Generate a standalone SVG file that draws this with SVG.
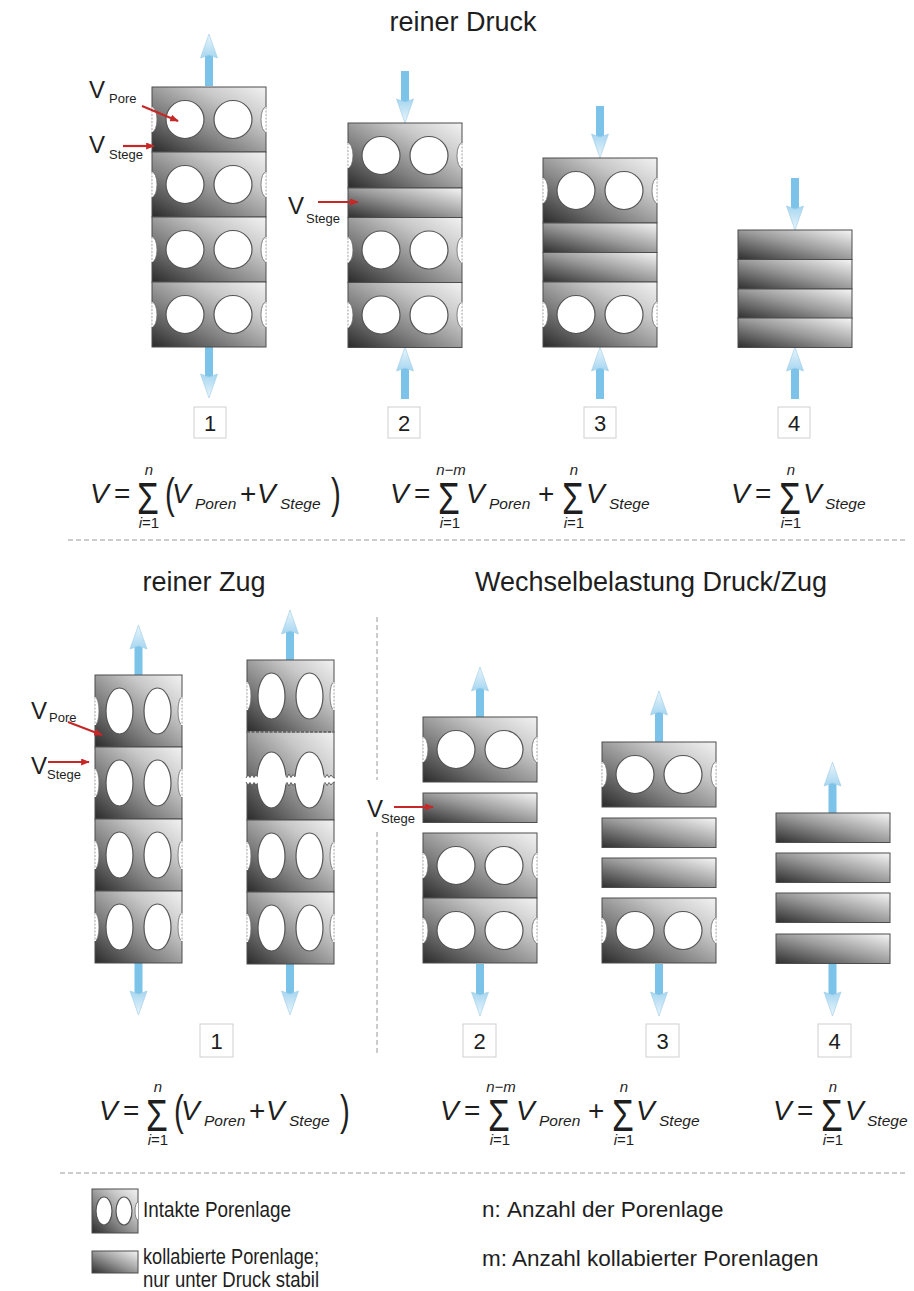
<svg xmlns="http://www.w3.org/2000/svg" width="914" height="1291" viewBox="0 0 914 1291">
<style>
.t{font-family:"Liberation Sans",Arial,sans-serif;fill:#1e1e1e}
.h{font-size:27px}
.mi{font-size:28px;font-style:italic}
.mo{font-size:28px}
.sg{font-size:44px}
.pa{font-size:42px}
.sub{font-size:15.5px;font-style:italic}
.lim{font-size:15px}
.lbl{font-size:22px}
.vb{font-size:24px}
.vs{font-size:13px}
.leg{font-size:22.5px}
.lay{stroke:#4d4d4d;stroke-width:1}
.pore{fill:#fff;stroke:#555;stroke-width:1.2}
.notch{fill:#fff;stroke:#6a6a6a;stroke-width:0.8}
.cover{stroke:#fff;stroke-width:1.8}
.edge{stroke:#a8a8a8;stroke-width:1;stroke-dasharray:2 1.5}
.sep{stroke:#9a9a9a;stroke-width:1;stroke-dasharray:5 3;fill:none}
.box{fill:#fff;stroke:#cfcfcf;stroke-width:1}
.red{stroke:#c62828;stroke-width:2.2;fill:none;marker-end:url(#redHead)}
.zig{fill:none;stroke:#555;stroke-width:0.9}
</style>
<defs>
  <linearGradient id="gLayer" x1="0" y1="1" x2="1" y2="0">
    <stop offset="0" stop-color="#2a2a2a"/>
    <stop offset="0.35" stop-color="#7e7e7e"/>
    <stop offset="0.7" stop-color="#c8c8c8"/>
    <stop offset="1" stop-color="#f2f2f2"/>
  </linearGradient>
  <linearGradient id="gFlat" x1="0" y1="1" x2="1" y2="0">
    <stop offset="0" stop-color="#2e2e2e"/>
    <stop offset="0.5" stop-color="#9a9a9a"/>
    <stop offset="1" stop-color="#f6f6f6"/>
  </linearGradient>
  <linearGradient id="gHead" x1="0" y1="0" x2="0" y2="1">
    <stop offset="0" stop-color="#eaf6fc"/>
    <stop offset="1" stop-color="#a6d6f0"/>
  </linearGradient>
  <marker id="redHead" viewBox="0 0 10 8" refX="9" refY="4" markerWidth="9" markerHeight="7" markerUnits="userSpaceOnUse" orient="auto">
    <path d="M0,0 L10,4 L0,8 z" fill="#c62828"/>
  </marker>

  <!-- blue load arrow, tip at origin, pointing up, 52 long -->
  <g id="arrowUp">
    <rect x="-4" y="18" width="8" height="34" fill="#7cc3e9"/>
    <path d="M0,0 L8.5,24 L0,21 L-8.5,24 Z" fill="url(#gHead)" stroke="#9ccbe6" stroke-width="0.6"/>
  </g>

  <!-- intact pore layer, round pores -->
  <g id="layerIntact">
    <rect x="0" y="0" width="114" height="65" fill="url(#gLayer)" class="lay"/>
    <circle cx="33" cy="32.5" r="19" class="pore"/>
    <circle cx="81" cy="32.5" r="19" class="pore"/>
    <path d="M0,20 A5,12.5 0 0 1 0,45" class="notch"/>
    <path d="M114,20 A5,12.5 0 0 0 114,45" class="notch"/>
    <line x1="0" y1="20" x2="0" y2="45" class="cover"/>
    <line x1="114" y1="20" x2="114" y2="45" class="cover"/>
    <line x1="0" y1="20" x2="0" y2="45" class="edge"/>
    <line x1="114" y1="20" x2="114" y2="45" class="edge"/>
  </g>

  <!-- collapsed layer -->
  <g id="layerFlat">
    <rect x="0" y="0" width="114" height="29.5" fill="url(#gFlat)" class="lay"/>
  </g>

  <!-- stretched layer, oval pores -->
  <g id="layerTension">
    <rect x="0" y="0" width="87" height="72" fill="url(#gLayer)" class="lay"/>
    <ellipse cx="24.5" cy="36" rx="13.5" ry="23" class="pore"/>
    <ellipse cx="62.5" cy="36" rx="13.5" ry="23" class="pore"/>
    <path d="M0,22 A4,14 0 0 1 0,50" class="notch"/>
    <path d="M87,22 A4,14 0 0 0 87,50" class="notch"/>
    <line x1="0" y1="22" x2="0" y2="50" class="cover"/>
    <line x1="87" y1="22" x2="87" y2="50" class="cover"/>
    <line x1="0" y1="22" x2="0" y2="50" class="edge"/>
    <line x1="87" y1="22" x2="87" y2="50" class="edge"/>
  </g>

  <!-- torn layer: pore walls broken through -->
  <g id="layerTorn">
    <rect x="0" y="0" width="87" height="88" fill="url(#gLayer)" class="lay"/>
    <ellipse cx="24.5" cy="48" rx="14.5" ry="28" class="pore"/>
    <ellipse cx="62.5" cy="48" rx="14.5" ry="28" class="pore"/>
    <polygon points="-1,46 1,43 3,45.5 5,42.5 7,45.5 9,43 11,45.5 13,46 13,50 11,50.5 9,53 7,50.5 5,53.5 3,50.5 1,53 -1,50" fill="#fff"/>
    <polygon points="36,46 38,43 40,45.5 42,42 44,45.5 46,42.5 48,45 50,43 51,46 51,50 50,53 48,51 46,53.5 44,50.5 42,54 40,50.5 38,53 36,50" fill="#fff"/>
    <polygon points="74,46 76,43 78,45.5 80,42.5 82,45.5 84,43 86,45.5 88,46 88,50 86,50.5 84,53 82,50.5 80,53.5 78,50.5 76,53 74,50" fill="#fff"/>
    <polyline points="-1,46 1,43 3,45.5 5,42.5 7,45.5 9,43 10,44.5" class="zig"/>
    <polyline points="-1,50 1,53 3,50.5 5,53.5 7,50.5 9,53 10,51.5" class="zig"/>
    <polyline points="39,44.5 40,45.5 42,42 44,45.5 46,42.5 48,45" class="zig"/>
    <polyline points="39,51.5 40,50.5 42,54 44,50.5 46,53.5 48,51" class="zig"/>
    <polyline points="77,44.5 78,45.5 80,42.5 82,45.5 84,43 86,45.5 88,46" class="zig"/>
    <polyline points="77,51.5 78,50.5 80,53.5 82,50.5 84,53 86,50.5 88,50" class="zig"/>
    <line x1="0" y1="0" x2="87" y2="0" stroke="#ddd" stroke-width="1.2"/>
    <line x1="0" y1="0" x2="87" y2="0" stroke="#333" stroke-width="1" stroke-dasharray="3 1.5"/>
  </g>

  <!-- volume formulas -->
  <g id="fAll">
    <text class="t mi" x="90" y="503">V</text>
    <text class="t mo" x="114" y="503">=</text>
    <text class="t sg" transform="translate(137,514) scale(0.8,1)">Σ</text>
    <text class="t lim" x="149" y="475" text-anchor="middle" font-style="italic">n</text>
    <text class="t lim" x="149" y="528" text-anchor="middle"><tspan font-style="italic">i</tspan>=1</text>
    <text class="t pa" transform="translate(165,508) scale(0.7,1)">(</text>
    <text class="t mi" x="172" y="503">V</text>
    <text class="t sub" x="195" y="509">Poren</text>
    <text class="t mo" x="240" y="503">+</text>
    <text class="t mi" x="257" y="503">V</text>
    <text class="t sub" x="280" y="509">Stege</text>
    <text class="t pa" transform="translate(331,508) scale(0.7,1)">)</text>
  </g>
  <g id="fMixed">
    <text class="t mi" x="390" y="503">V</text>
    <text class="t mo" x="414" y="503">=</text>
    <text class="t sg" transform="translate(438,514) scale(0.8,1)">Σ</text>
    <text class="t lim" x="451" y="475" text-anchor="middle" font-style="italic">n−m</text>
    <text class="t lim" x="450" y="528" text-anchor="middle"><tspan font-style="italic">i</tspan>=1</text>
    <text class="t mi" x="466" y="503">V</text>
    <text class="t sub" x="489" y="509">Poren</text>
    <text class="t mo" x="538" y="503">+</text>
    <text class="t sg" transform="translate(562,514) scale(0.8,1)">Σ</text>
    <text class="t lim" x="574" y="475" text-anchor="middle" font-style="italic">n</text>
    <text class="t lim" x="574" y="528" text-anchor="middle"><tspan font-style="italic">i</tspan>=1</text>
    <text class="t mi" x="586" y="503">V</text>
    <text class="t sub" x="609" y="509">Stege</text>
  </g>
  <g id="fFlat">
    <text class="t mi" x="731" y="503">V</text>
    <text class="t mo" x="755" y="503">=</text>
    <text class="t sg" transform="translate(779,514) scale(0.8,1)">Σ</text>
    <text class="t lim" x="791" y="475" text-anchor="middle" font-style="italic">n</text>
    <text class="t lim" x="791" y="528" text-anchor="middle"><tspan font-style="italic">i</tspan>=1</text>
    <text class="t mi" x="803" y="503">V</text>
    <text class="t sub" x="825" y="509">Stege</text>
  </g>
</defs>

<rect x="0" y="0" width="914" height="1291" fill="#fff"/>

<!-- headings -->
<text class="t h" x="463" y="31" text-anchor="middle">reiner Druck</text>
<text class="t h" x="204" y="591" text-anchor="middle">reiner Zug</text>
<text class="t h" x="651" y="591" text-anchor="middle">Wechselbelastung Druck/Zug</text>

<!-- section separators -->
<g id="separators">
  <line x1="68" y1="540" x2="905" y2="540" class="sep"/>
  <line x1="377" y1="617" x2="377" y2="780" class="sep"/>
  <line x1="377" y1="832" x2="377" y2="1056" class="sep"/>
  <line x1="60" y1="1173" x2="905" y2="1173" class="sep"/>
</g>

<!-- load arrows -->
<g id="connectors">
  <use href="#arrowUp" transform="translate(209,34)"/>
  <use href="#arrowUp" transform="translate(209,398) scale(1,-1)"/>
  <use href="#arrowUp" transform="translate(405,123) scale(1,-1)"/>
  <use href="#arrowUp" transform="translate(405,347)"/>
  <use href="#arrowUp" transform="translate(600,158) scale(1,-1)"/>
  <use href="#arrowUp" transform="translate(600,347)"/>
  <use href="#arrowUp" transform="translate(795,230) scale(1,-1)"/>
  <use href="#arrowUp" transform="translate(795,347)"/>

  <use href="#arrowUp" transform="translate(138.5,625)"/>
  <use href="#arrowUp" transform="translate(138.5,1015) scale(1,-1)"/>
  <use href="#arrowUp" transform="translate(290,610)"/>
  <use href="#arrowUp" transform="translate(290,1015) scale(1,-1)"/>
  <use href="#arrowUp" transform="translate(480,667)"/>
  <use href="#arrowUp" transform="translate(480,1016) scale(1,-1)"/>
  <use href="#arrowUp" transform="translate(659,691)"/>
  <use href="#arrowUp" transform="translate(659,1016) scale(1,-1)"/>
  <use href="#arrowUp" transform="translate(832.5,762)"/>
  <use href="#arrowUp" transform="translate(832.5,1016) scale(1,-1)"/>
</g>

<!-- pure compression -->
<g id="druck-1">
  <use href="#layerIntact" x="152" y="87"/>
  <use href="#layerIntact" x="152" y="152"/>
  <use href="#layerIntact" x="152" y="217"/>
  <use href="#layerIntact" x="152" y="282"/>
  <text class="t vb" x="89" y="98">V</text><text class="t vs" x="109" y="103">Pore</text>
  <text class="t vb" x="89" y="153">V</text><text class="t vs" x="109" y="159">Stege</text>
</g>
<g id="druck-2">
  <use href="#layerIntact" x="348" y="123"/>
  <use href="#layerFlat" x="348" y="188"/>
  <use href="#layerIntact" x="348" y="217.5"/>
  <use href="#layerIntact" x="348" y="282.5"/>
  <text class="t vb" x="288" y="214">V</text><text class="t vs" x="306" y="223">Stege</text>
</g>
<g id="druck-3">
  <use href="#layerIntact" x="543" y="158"/>
  <use href="#layerFlat" x="543" y="223"/>
  <use href="#layerFlat" x="543" y="252.5"/>
  <use href="#layerIntact" x="543" y="282"/>
</g>
<g id="druck-4">
  <use href="#layerFlat" x="738" y="230"/>
  <use href="#layerFlat" x="738" y="259.5"/>
  <use href="#layerFlat" x="738" y="289"/>
  <use href="#layerFlat" x="738" y="318"/>
</g>

<g id="labels-top">
  <rect x="194" y="407" width="32" height="31" class="box"/><text class="t lbl" x="210" y="431" text-anchor="middle">1</text>
  <rect x="388" y="407" width="32" height="31" class="box"/><text class="t lbl" x="404" y="431" text-anchor="middle">2</text>
  <rect x="584" y="407" width="32" height="31" class="box"/><text class="t lbl" x="600" y="431" text-anchor="middle">3</text>
  <rect x="778" y="407" width="32" height="31" class="box"/><text class="t lbl" x="794" y="431" text-anchor="middle">4</text>
</g>

<g id="formulas-top">
  <use href="#fAll"/>
  <use href="#fMixed"/>
  <use href="#fFlat"/>
</g>

<!-- pure tension -->
<g id="zug-1">
  <use href="#layerTension" x="95" y="675"/>
  <use href="#layerTension" x="95" y="747"/>
  <use href="#layerTension" x="95" y="819"/>
  <use href="#layerTension" x="95" y="891"/>
  <text class="t vb" x="31" y="719" font-size="26">V</text><text class="t vs" x="49" y="722" font-size="14">Pore</text>
  <text class="t vb" x="31" y="774" font-size="26">V</text><text class="t vs" x="47" y="779" font-size="14">Stege</text>
</g>
<g id="zug-1b">
  <use href="#layerTension" x="247" y="660"/>
  <use href="#layerTorn" x="247" y="732"/>
  <use href="#layerTension" x="247" y="820"/>
  <use href="#layerTension" x="247" y="892"/>
</g>

<!-- alternating load -->
<g id="wechsel-2">
  <use href="#layerIntact" x="423" y="717"/>
  <use href="#layerFlat" x="423" y="793"/>
  <use href="#layerIntact" x="423" y="833"/>
  <use href="#layerIntact" x="423" y="898"/>
  <rect x="364" y="790" width="28" height="36" fill="#fff"/>
  <text class="t vb" x="367" y="817">V</text><text class="t vs" x="381" y="823">Stege</text>
</g>
<g id="wechsel-3">
  <use href="#layerIntact" x="602" y="742"/>
  <use href="#layerFlat" x="602" y="818"/>
  <use href="#layerFlat" x="602" y="858"/>
  <use href="#layerIntact" x="602" y="898"/>
</g>
<g id="wechsel-4">
  <use href="#layerFlat" x="776" y="813"/>
  <use href="#layerFlat" x="776" y="853"/>
  <use href="#layerFlat" x="776" y="893"/>
  <use href="#layerFlat" x="776" y="934"/>
</g>

<!-- red pointers to pore and web volumes -->
<g id="pointers">
  <line x1="142" y1="106" x2="178" y2="121" class="red"/>
  <line x1="123" y1="146" x2="154" y2="146" class="red"/>
  <line x1="318" y1="202" x2="358" y2="202" class="red"/>
  <line x1="68" y1="722" x2="102" y2="735" class="red"/>
  <line x1="48" y1="762" x2="89" y2="762" class="red"/>
  <line x1="394" y1="807" x2="433" y2="807" class="red"/>
</g>

<g id="labels-bottom">
  <rect x="200" y="1024" width="33" height="33" class="box"/><text class="t lbl" x="216.5" y="1049" text-anchor="middle">1</text>
  <rect x="463" y="1024" width="33" height="33" class="box"/><text class="t lbl" x="479.5" y="1049" text-anchor="middle">2</text>
  <rect x="646" y="1024" width="33" height="33" class="box"/><text class="t lbl" x="662.5" y="1049" text-anchor="middle">3</text>
  <rect x="818" y="1024" width="33" height="33" class="box"/><text class="t lbl" x="834.5" y="1049" text-anchor="middle">4</text>
</g>

<g id="formulas-bottom">
  <use href="#fAll" x="9" y="617"/>
  <use href="#fMixed" x="50" y="617"/>
  <use href="#fFlat" x="42" y="617"/>
</g>

<!-- legend -->
<g id="legend-intact">
  <rect x="92" y="1189" width="46" height="44" fill="url(#gLayer)" class="lay"/>
  <ellipse cx="104" cy="1211" rx="8" ry="14" class="pore"/>
  <ellipse cx="124" cy="1211" rx="8" ry="14" class="pore"/>
  <path d="M138,1202 A3,9 0 0 0 138,1220" class="notch"/>
  <text class="t leg" x="143" y="1217" textLength="148" lengthAdjust="spacingAndGlyphs">Intakte Porenlage</text>
</g>
<g id="legend-flat">
  <rect x="92" y="1251" width="46" height="22" fill="url(#gFlat)" class="lay"/>
  <text class="t leg" x="143" y="1264" textLength="176" lengthAdjust="spacingAndGlyphs">kollabierte Porenlage;</text>
  <text class="t leg" x="143" y="1287" textLength="176" lengthAdjust="spacingAndGlyphs">nur unter Druck stabil</text>
</g>
<g id="legend-symbols">
  <text class="t leg" x="482" y="1217">n:<tspan x="507">Anzahl der Porenlage</tspan></text>
  <text class="t leg" x="482" y="1266">m: Anzahl kollabierter Porenlagen</text>
</g>
</svg>
